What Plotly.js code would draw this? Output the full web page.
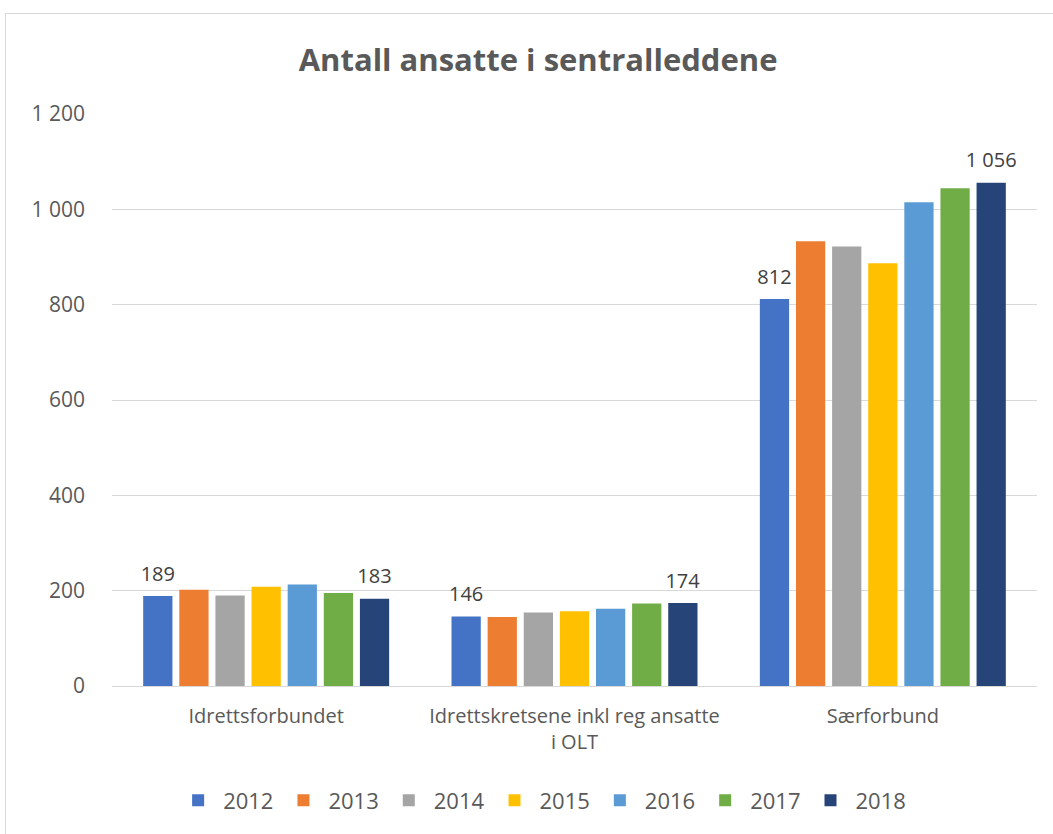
<!DOCTYPE html>
<html>
<head>
<meta charset="utf-8">
<script src="https://cdn.plot.ly/plotly-3.0.1.min.js"></script>
<style>
html,body{margin:0;padding:0;overflow:hidden;background:#fff;}
#chart{width:1053px;height:834px;position:absolute;left:0;top:0;}
#frame{position:absolute;left:5px;top:13px;width:1200px;height:1000px;border:1px solid #d9d9d9;pointer-events:none;}
</style>
</head>
<body>
<div id="chart"></div>
<div id="frame"></div>
<script>
const categories = ["Idrettsforbundet", "Idrettskretsene inkl reg ansatte<br>i OLT", "Særforbund"];
const years = ["2012", "2013", "2014", "2015", "2016", "2017", "2018"];
const v2012 = [189, 146, 812];
const v2013 = [202, 145, 933];
const v2014 = [190, 154, 922];
const v2015 = [208, 157, 887];
const v2016 = [213, 162, 1015];
const v2017 = [195, 173, 1044];
const v2018 = [183, 174, 1056];
const labelledYears = ["2012", "2018"];
const colors = ["#4472c4", "#ed7d31", "#a5a5a5", "#ffc000", "#5b9bd5", "#70ad47", "#264478"];

const series = [v2012, v2013, v2014, v2015, v2016, v2017, v2018];
const fmt = n => String(n).replace(/\B(?=(\d{3})+(?!\d))/g, " ");
const FONT = "'Open Sans', 'Noto Sans', sans-serif";
const label = v => "<span style='font-size:20px'>" + fmt(v) + "</span><br> ";

const traces = series.map((vals, i) => ({
  type: "bar",
  name: years[i],
  x: categories,
  y: vals,
  marker: {color: colors[i]},
  text: labelledYears.includes(years[i]) ? vals.map(label) : vals.map(() => ""),
  textposition: "outside",
  constraintext: "none",
  cliponaxis: false,
  textfont: {size: 8, color: "#404040", family: FONT},
  hoverinfo: "x+y+name"
}));

const layout = {
  width: 1053, height: 834,
  margin: {l: 112, r: 16, t: 114, b: 148},
  paper_bgcolor: "rgba(0,0,0,0)",
  plot_bgcolor: "rgba(0,0,0,0)",
  separators: ", ",
  font: {family: FONT, color: "#595959"},
  title: {text: "<b>Antall ansatte i sentralleddene</b>", x: 0.511, xanchor: "center", y: 0.928, yanchor: "middle",
          font: {size: 31, color: "#595959", family: FONT}},
  barmode: "group",
  bargap: 0.18,
  bargroupgap: 0.19,
  xaxis: {
    showgrid: false, showline: true, linecolor: "#d9d9d9", linewidth: 1,
    ticks: "", ticklabelstandoff: 12,
    tickfont: {size: 20, color: "#595959", family: FONT}
  },
  yaxis: {
    range: [0, 1200], dtick: 200, tickformat: ",d",
    showgrid: true, gridcolor: "#d9d9d9", gridwidth: 1,
    zeroline: false, showline: false, ticks: "",
    ticklabelstandoff: 26,
    tickfont: {size: 21, color: "#595959", family: FONT}
  },
  legend: {
    orientation: "h", x: 0.465, xanchor: "center", y: -0.20, yanchor: "middle",
    font: {size: 22, color: "#595959", family: FONT},
    traceorder: "normal", itemwidth: 40
  },
  showlegend: true
};

Plotly.newPlot("chart", traces, layout, {displayModeBar: false, staticPlot: true});
</script>
</body>
</html>
